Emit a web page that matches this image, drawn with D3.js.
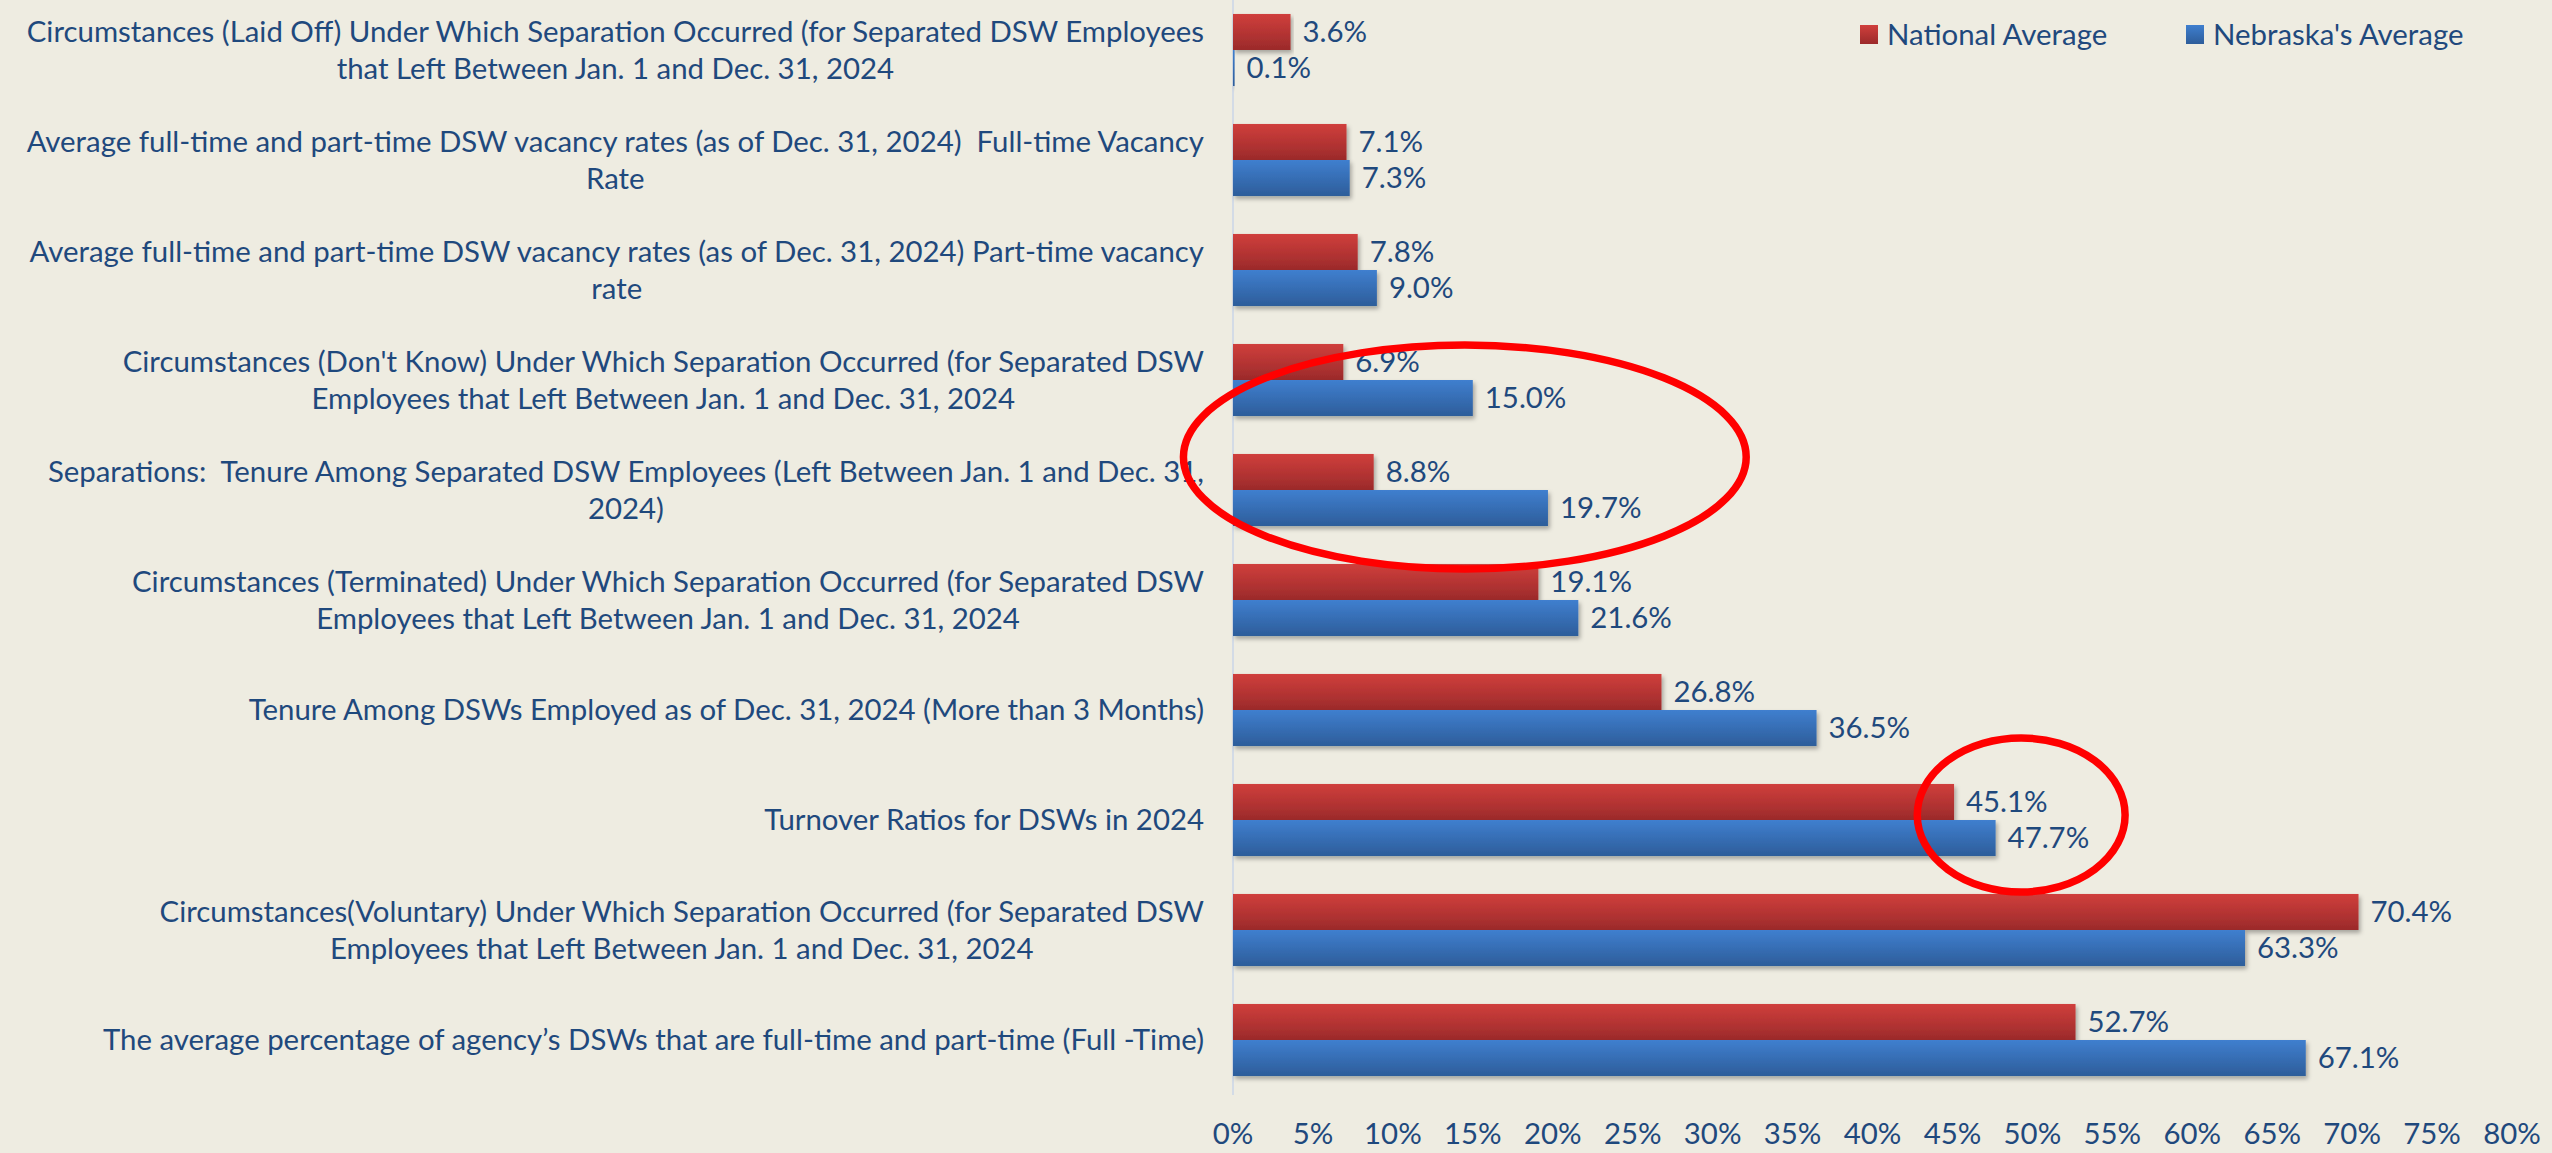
<!DOCTYPE html>
<html>
<head>
<meta charset="utf-8">
<script src="https://cdn.jsdelivr.net/npm/d3@7"></script>
<style>
html,body{margin:0;padding:0;background:#eeece1;}
svg{display:block;}
text{white-space:pre;}
</style>
</head>
<body>
<div id="chart"></div>
<script>
// category labels, top to bottom, split into the lines the original shows
const categories=[
  ["Circumstances (Laid Off) Under Which Separation Occurred (for Separated DSW Employees","that Left Between Jan. 1 and Dec. 31, 2024"],
  ["Average full-time and part-time DSW vacancy rates (as of Dec. 31, 2024)  Full-time Vacancy","Rate"],
  ["Average full-time and part-time DSW vacancy rates (as of Dec. 31, 2024) Part-time vacancy","rate"],
  ["Circumstances (Don't Know) Under Which Separation Occurred (for Separated DSW","Employees that Left Between Jan. 1 and Dec. 31, 2024"],
  ["Separations:  Tenure Among Separated DSW Employees (Left Between Jan. 1 and Dec. 31,","2024)"],
  ["Circumstances (Terminated) Under Which Separation Occurred (for Separated DSW","Employees that Left Between Jan. 1 and Dec. 31, 2024"],
  ["Tenure Among DSWs Employed as of Dec. 31, 2024 (More than 3 Months)"],
  ["Turnover Ratios for DSWs in 2024"],
  ["Circumstances(Voluntary) Under Which Separation Occurred (for Separated DSW","Employees that Left Between Jan. 1 and Dec. 31, 2024"],
  ["The average percentage of agency\u2019s DSWs that are full-time and part-time (Full -Time)"]
];
const seriesNames=["National Average","Nebraska's Average"];
const national=[3.6,7.1,7.8,6.9,8.8,19.1,26.8,45.1,70.4,52.7];
const nebraska=[0.1,7.3,9.0,15.0,19.7,21.6,36.5,47.7,63.3,67.1];
const xTicks=[0,5,10,15,20,25,30,35,40,45,50,55,60,65,70,75,80];

const W=2552,H=1153;
const TEXT="#1f497d";
const FONT="Lato, 'Liberation Sans', sans-serif";

const svg=d3.select("#chart").append("svg").attr("width",W).attr("height",H);
svg.append("rect").attr("width",W).attr("height",H).attr("fill","#eeece1");

const defs=svg.append("defs");
function grad(id,top,bot){
  const g=defs.append("linearGradient").attr("id",id).attr("x1",0).attr("x2",0).attr("y1",0).attr("y2",1);
  g.append("stop").attr("offset","0%").attr("stop-color",top);
  g.append("stop").attr("offset","100%").attr("stop-color",bot);
}
grad("g-red","#d03f3c","#9b2a2a");
grad("g-blue","#3f7fcf","#2d5d9a");
const sh=defs.append("filter").attr("id","shadow").attr("x","-5%").attr("y","-20%").attr("width","110%").attr("height","160%");
sh.append("feDropShadow").attr("dx",2).attr("dy",3).attr("stdDeviation",2).attr("flood-color","#000").attr("flood-opacity",0.3);

const xScale=d3.scaleLinear().domain([0,80]).range([1233,2512]);
const yScale=d3.scaleBand().domain(d3.range(categories.length)).range([-5,1095])
  .paddingInner(0.345).paddingOuter(0.1725);
const sScale=d3.scaleBand().domain([0,1]).range([0,yScale.bandwidth()]);

// pick a font size so the longest label line is as wide as in the original
const probe=svg.append("text").style("font-family",FONT).style("font-size","30px")
  .text(categories[0][0]);
const fs=30*1178/probe.node().getComputedTextLength();
probe.remove();
const lineH=37.4;

// axis line
svg.append("line").attr("x1",xScale(0)).attr("x2",xScale(0)).attr("y1",0).attr("y2",1095)
  .attr("stroke","#d3dbe6").attr("stroke-width",2);

// category labels (centered block, right-aligned to the plot)
const labelRight=1204;
categories.forEach((lines,i)=>{
  const cy=yScale(i)+yScale.bandwidth()/2;
  const g=svg.append("g");
  const texts=lines.map((ln,j)=>g.append("text")
    .attr("y",cy+(j-(lines.length-1)/2)*lineH)
    .attr("dy","0.35em").attr("text-anchor","middle")
    .attr("fill",TEXT).style("font-family",FONT).style("font-size",fs+"px")
    .text(ln));
  const bw=d3.max(texts,t=>t.node().getComputedTextLength());
  texts.forEach(t=>t.attr("x",labelRight-bw/2));
});

const rows=categories.map((c,i)=>({i,vals:[national[i],nebraska[i]]}));
const fills=["url(#g-red)","url(#g-blue)"];

const groups=svg.append("g").selectAll("g.cat").data(rows).join("g").attr("class","cat")
  .attr("transform",d=>`translate(0,${yScale(d.i)})`);

groups.selectAll("rect").data(d=>d.vals.map((v,s)=>({v,s}))).join("rect")
  .attr("x",xScale(0))
  .attr("y",d=>sScale(d.s))
  .attr("width",d=>Math.max(1.5,xScale(d.v)-xScale(0)))
  .attr("height",sScale.bandwidth())
  .attr("fill",d=>fills[d.s])
  .attr("filter","url(#shadow)");

groups.selectAll("text.val").data(d=>d.vals.map((v,s)=>({v,s}))).join("text").attr("class","val")
  .attr("x",d=>xScale(d.v)+12)
  .attr("y",d=>sScale(d.s)+sScale.bandwidth()/2)
  .attr("dy","0.35em")
  .attr("fill",TEXT).style("font-family",FONT).style("font-size",fs+"px")
  .text(d=>d.v.toFixed(1)+"%");

// x tick labels
svg.append("g").selectAll("text").data(xTicks).join("text")
  .attr("x",d=>xScale(d)).attr("y",1134).attr("dy","0.35em")
  .attr("text-anchor","middle").attr("fill",TEXT)
  .style("font-family",FONT).style("font-size",fs+"px")
  .text(d=>d+"%");

// legend
const legX=[1860,2186];
seriesNames.forEach((n,s)=>{
  svg.append("rect").attr("x",legX[s]).attr("y",25).attr("width",18).attr("height",19).attr("fill",fills[s]);
  svg.append("text").attr("x",legX[s]+27).attr("y",35).attr("dy","0.35em")
    .attr("fill",TEXT).style("font-family",FONT).style("font-size",fs+"px").text(n);
});

// red annotation ellipses
const mid=i=>yScale(i)+yScale.bandwidth()/2;
svg.append("ellipse")
  .attr("cx",xScale(14.5)).attr("cy",mid(4)-33)
  .attr("rx",xScale(17.6)-xScale(0)).attr("ry",112)
  .attr("fill","none").attr("stroke","#ff0000").attr("stroke-width",7.5);
svg.append("ellipse")
  .attr("cx",xScale(49.3)).attr("cy",mid(7)-5)
  .attr("rx",xScale(6.5)-xScale(0)).attr("ry",77)
  .attr("fill","none").attr("stroke","#ff0000").attr("stroke-width",7.5);
</script>
</body>
</html>
